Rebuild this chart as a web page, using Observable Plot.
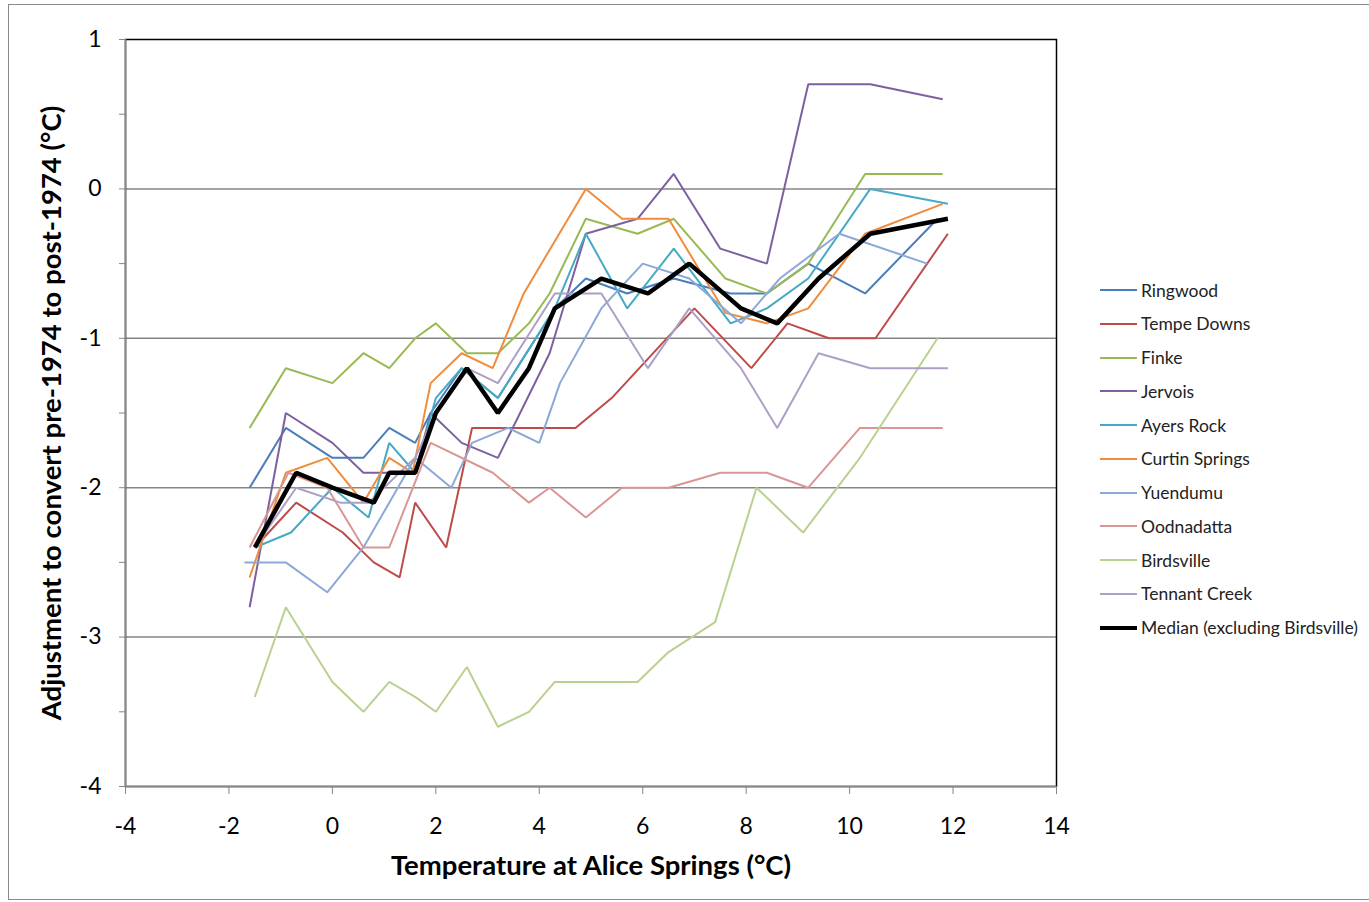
<!DOCTYPE html>
<html>
<head>
<meta charset="utf-8">
<script src="https://cdn.jsdelivr.net/npm/d3@7"></script>
<script src="https://cdn.jsdelivr.net/npm/@observablehq/plot@0.6"></script>
<style>
  body { margin: 0; background: #fff; font-family: Lato, "Open Sans", sans-serif; }
  #wrap { position: relative; width: 1369px; height: 902px; overflow: hidden; }
  #border { position: absolute; left: 8px; top: 4px; width: 1400px; height: 894px; border: 1px solid #8a8a8a; }
  #chart { position: absolute; left: 0; top: 0; }
  #legend { position: absolute; left: 1100px; top: 0; }
  .item { position: absolute; left: 0; height: 22px; display: flex; align-items: center; white-space: nowrap; font-size: 17.5px; color: #222; }
  .sw { width: 37px; margin-right: 4px; }
</style>
</head>
<body>
<div id="wrap">
  <div id="border"></div>
  <div id="chart"></div>
  <div id="legend"></div>
</div>
<script>
// ---- Data ----
const stations = ["Ringwood", "Tempe Downs", "Finke", "Jervois", "Ayers Rock", "Curtin Springs", "Yuendumu", "Oodnadatta", "Birdsville", "Tennant Creek", "Median (excluding Birdsville)"];
const colors = ["#4A7EBB", "#BE4B48", "#98B954", "#7D60A0", "#46AAC5", "#F08C3C", "#8CA8D8", "#D99694", "#B9D190", "#AE9FC6", "#000000"];

const ringwoodX = [-1.6, -0.9, 0, 0.6, 1.1, 1.6, 1.9, 2.5, 3.2, 4.3, 4.9, 5.7, 6.6, 7.7, 8.4, 9.2, 10.3, 11.7];
const ringwoodY = [-2.0, -1.6, -1.8, -1.8, -1.6, -1.7, -1.5, -1.2, -1.4, -0.8, -0.6, -0.7, -0.6, -0.7, -0.7, -0.5, -0.7, -0.2];

const tempeX = [-1.5, -0.7, 0.2, 0.8, 1.3, 1.6, 2.2, 2.7, 4.7, 5.4, 7.0, 8.1, 8.8, 9.6, 10.5, 11.9];
const tempeY = [-2.4, -2.1, -2.3, -2.5, -2.6, -2.1, -2.4, -1.6, -1.6, -1.4, -0.8, -1.2, -0.9, -1.0, -1.0, -0.3];

const finkeX = [-1.6, -0.9, 0, 0.6, 1.1, 1.6, 2.0, 2.6, 3.2, 3.8, 4.2, 4.9, 5.9, 6.6, 7.6, 8.4, 9.2, 10.3, 11.8];
const finkeY = [-1.6, -1.2, -1.3, -1.1, -1.2, -1.0, -0.9, -1.1, -1.1, -0.9, -0.7, -0.2, -0.3, -0.2, -0.6, -0.7, -0.5, 0.1, 0.1];

const jervoisX = [-1.6, -0.9, 0, 0.6, 1.1, 1.6, 1.9, 2.5, 3.2, 4.2, 4.9, 5.9, 6.6, 7.5, 8.4, 9.2, 10.4, 11.8];
const jervoisY = [-2.8, -1.5, -1.7, -1.9, -1.9, -1.9, -1.5, -1.7, -1.8, -1.1, -0.3, -0.2, 0.1, -0.4, -0.5, 0.7, 0.7, 0.6];

const ayersX = [-1.5, -0.8, 0, 0.7, 1.1, 1.6, 2.0, 2.5, 3.2, 4.3, 4.9, 5.7, 6.6, 7.7, 8.4, 9.2, 10.4, 11.9];
const ayersY = [-2.4, -2.3, -2.0, -2.2, -1.7, -1.9, -1.4, -1.2, -1.4, -0.8, -0.3, -0.8, -0.4, -0.9, -0.8, -0.6, 0.0, -0.1];

const curtinX = [-1.6, -0.9, -0.1, 0.6, 1.1, 1.55, 1.9, 2.5, 3.1, 3.7, 4.9, 5.6, 6.5, 7.6, 8.4, 9.2, 10.3, 11.8];
const curtinY = [-2.6, -1.9, -1.8, -2.1, -1.8, -1.9, -1.3, -1.1, -1.2, -0.7, 0.0, -0.2, -0.2, -0.83, -0.9, -0.8, -0.3, -0.1];

const yuendumuX = [-1.7, -0.9, -0.1, 0.6, 1.6, 2.3, 2.7, 3.4, 4.0, 4.4, 5.2, 6.0, 6.9, 7.9, 8.65, 9.8, 11.5];
const yuendumuY = [-2.5, -2.5, -2.7, -2.4, -1.8, -2.0, -1.7, -1.6, -1.7, -1.3, -0.8, -0.5, -0.6, -0.9, -0.6, -0.3, -0.5];

const oodnadattaX = [-1.6, -0.85, -0.1, 0.6, 1.1, 1.9, 3.1, 3.8, 4.2, 4.9, 5.6, 6.5, 7.5, 8.4, 9.2, 10.2, 11.8];
const oodnadattaY = [-2.4, -1.9, -2.0, -2.4, -2.4, -1.7, -1.9, -2.1, -2.0, -2.2, -2.0, -2.0, -1.9, -1.9, -2.0, -1.6, -1.6];

const birdsvilleX = [-1.5, -0.9, 0, 0.6, 1.1, 1.6, 2.0, 2.6, 3.2, 3.8, 4.3, 5.9, 6.5, 7.4, 8.2, 9.1, 10.2, 11.7];
const birdsvilleY = [-3.4, -2.8, -3.3, -3.5, -3.3, -3.4, -3.5, -3.2, -3.6, -3.5, -3.3, -3.3, -3.1, -2.9, -2.0, -2.3, -1.8, -1.0];

const tennantX = [-1.5, -0.7, 0.15, 0.7, 1.6, 2.0, 2.6, 3.2, 4.3, 5.2, 6.1, 6.9, 7.9, 8.6, 9.4, 10.4, 11.9];
const tennantY = [-2.4, -2.0, -2.1, -2.1, -1.8, -1.5, -1.2, -1.3, -0.7, -0.7, -1.2, -0.8, -1.2, -1.6, -1.1, -1.2, -1.2];

const medianX = [-1.5, -0.7, 0, 0.8, 1.1, 1.6, 2.0, 2.6, 3.2, 3.8, 4.3, 5.2, 6.1, 6.9, 7.9, 8.6, 9.4, 10.4, 11.9];
const medianY = [-2.4, -1.9, -2.0, -2.1, -1.9, -1.9, -1.5, -1.2, -1.5, -1.2, -0.8, -0.6, -0.7, -0.5, -0.8, -0.9, -0.6, -0.3, -0.2];

const xTicks = [-4, -2, 0, 2, 4, 6, 8, 10, 12, 14];
const yTicks = [1, 0, -1, -2, -3, -4];
const yMinorTicks = [0.5, -0.5, -1.5, -2.5, -3.5];
const gridY = [0, -1, -2, -3];
const xTitle = "Temperature at Alice Springs (°C)";
const yTitle = "Adjustment to convert pre-1974 to post-1974 (°C)";

// ---- Build table ----
const seriesXY = [
  [ringwoodX, ringwoodY], [tempeX, tempeY], [finkeX, finkeY], [jervoisX, jervoisY],
  [ayersX, ayersY], [curtinX, curtinY], [yuendumuX, yuendumuY], [oodnadattaX, oodnadattaY],
  [birdsvilleX, birdsvilleY], [tennantX, tennantY], [medianX, medianY]
];
const rows = [];
seriesXY.forEach(([xs, ys], i) => xs.forEach((x, j) => rows.push({station: stations[i], x, y: ys[j]})));

const lineMarks = stations.map((s, i) =>
  Plot.line(rows.filter(d => d.station === s), {
    x: "x", y: "y", stroke: colors[i],
    strokeWidth: i === stations.length - 1 ? 4.5 : 2,
    strokeLinejoin: "miter", strokeLinecap: "butt"
  })
);

const chart = Plot.plot({
  width: 1369,
  height: 902,
  marginLeft: 125,
  marginRight: 313,
  marginTop: 39,
  marginBottom: 116,
  x: {domain: [-4, 14]},
  y: {domain: [-4, 1]},
  style: {fontFamily: "Lato, 'Open Sans', sans-serif", background: "transparent", color: "#000", overflow: "visible"},
  marks: [
    Plot.ruleY(gridY, {stroke: "#868686", strokeWidth: 1.5}),
    Plot.frame({stroke: "#000", strokeWidth: 1.5}),
    Plot.ruleX([-4], {stroke: "#868686", strokeWidth: 1.5}),
    Plot.ruleY([-4], {stroke: "#868686", strokeWidth: 1.5}),
    Plot.axisX({ticks: xTicks, tickSize: 8, tickPadding: 23, tickFormat: d => String(d), stroke: "#868686", fontSize: 23, label: null}),
    Plot.axisY({ticks: yTicks, tickSize: 6, tickPadding: 18, tickFormat: d => String(d), stroke: "#868686", fontSize: 23, label: null}),
    Plot.axisY({ticks: yMinorTicks, tickSize: 6, text: null, stroke: "#868686", label: null}),
    ...lineMarks,
    Plot.text([xTitle], {text: d => d, frameAnchor: "bottom", dy: 80, fontSize: 27.5, fontWeight: "bold", textAnchor: "middle", lineAnchor: "middle", fill: "#000"}),
    Plot.text([yTitle], {text: d => d, frameAnchor: "left", dx: -73, rotate: -90, fontSize: 27.5, fontWeight: "bold", textAnchor: "middle", lineAnchor: "middle", fill: "#000"})
  ]
});
document.getElementById("chart").appendChild(chart);

// ---- Legend ----
const legend = document.getElementById("legend");
stations.forEach((s, i) => {
  const item = document.createElement("div");
  item.className = "item";
  item.style.top = (291 - 12 + i * 33.75) + "px";
  const sw = document.createElement("div");
  sw.className = "sw";
  sw.style.height = (i === stations.length - 1 ? 4 : 2) + "px";
  sw.style.background = colors[i];
  const t = document.createElement("span");
  t.textContent = s;
  item.appendChild(sw);
  item.appendChild(t);
  legend.appendChild(item);
});
</script>
</body>
</html>
